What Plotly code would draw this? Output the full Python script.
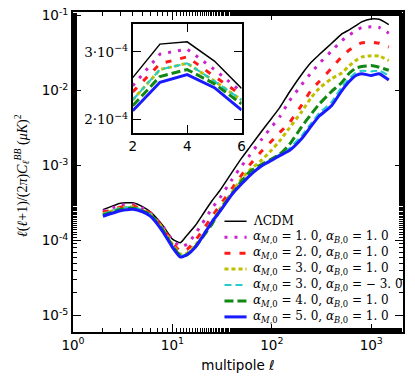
import plotly.graph_objects as go

# multipoles sampled off the figure
ell = [2, 3, 4, 5, 6, 8, 10, 12, 14, 17, 20, 25, 30, 40, 50, 60, 80, 100, 120,
       150, 200, 250, 300, 400, 500, 600, 700, 800, 1000, 1200, 1500]

# log10 of l(l+1)/(2pi) C_l^BB  [muK^2]
log_lcdm = [-3.590, -3.503, -3.497, -3.547, -3.618, -3.80, -3.98, -4.03, -3.93, -3.80, -3.66,
            -3.47, -3.333, -3.084, -2.895, -2.754, -2.532, -2.365, -2.227, -2.023, -1.782,
            -1.62, -1.52, -1.37, -1.25, -1.19, -1.135, -1.085, -1.045, -1.05, -1.12]
log_m1_b1 = [-3.611, -3.529, -3.516, -3.569, -3.627, -3.81, -3.99, -4.08, -4.05, -3.91, -3.77,
             -3.57, -3.43, -3.18, -3.00, -2.86, -2.64, -2.48, -2.35, -2.14, -1.92,
             -1.76, -1.64, -1.47, -1.34, -1.26, -1.20, -1.16, -1.15, -1.16, -1.235]
log_m2_b1 = [-3.627, -3.554, -3.536, -3.587, -3.635, -3.83, -4.03, -4.14, -4.12, -4.00, -3.87,
             -3.68, -3.53, -3.30, -3.12, -2.99, -2.80, -2.67, -2.56, -2.43, -2.19,
             -1.99, -1.88, -1.70, -1.555, -1.46, -1.40, -1.365, -1.355, -1.37, -1.42]
log_m3_b1 = [-3.648, -3.569, -3.553, -3.599, -3.648, -3.84, -4.05, -4.18, -4.17, -4.06, -3.94,
             -3.75, -3.58, -3.35, -3.17, -3.06, -2.92, -2.79, -2.67, -2.50, -2.28,
             -2.09, -1.97, -1.84, -1.77, -1.67, -1.60, -1.555, -1.535, -1.54, -1.60]
log_m3_bm3 = [-3.648, -3.569, -3.553, -3.599, -3.648, -3.85, -4.07, -4.20, -4.19, -4.08, -3.95,
              -3.77, -3.61, -3.38, -3.22, -3.11, -2.98, -2.92, -2.85, -2.77, -2.60,
              -2.43, -2.30, -2.15, -1.96, -1.84, -1.76, -1.735, -1.745, -1.735, -1.80]
log_m4_b1 = [-3.663, -3.587, -3.569, -3.606, -3.658, -3.86, -4.07, -4.20, -4.19, -4.08, -3.96,
             -3.78, -3.60, -3.37, -3.20, -3.08, -2.98, -2.91, -2.85, -2.72, -2.48,
             -2.31, -2.18, -2.01, -1.90, -1.77, -1.70, -1.68, -1.667, -1.69, -1.73]
log_m5_b1 = [-3.676, -3.602, -3.582, -3.616, -3.674, -3.88, -4.09, -4.22, -4.19, -4.09, -3.95,
             -3.75, -3.61, -3.38, -3.24, -3.133, -3.00, -2.93, -2.867, -2.80, -2.64,
             -2.47, -2.34, -2.20, -2.01, -1.88, -1.80, -1.775, -1.80, -1.775, -1.86]

labels = ["ΛCDM",
          "<i>α</i><sub><i>M</i>,0</sub> = 1. 0, <i>α</i><sub><i>B</i>,0</sub> = 1. 0",
          "<i>α</i><sub><i>M</i>,0</sub> = 2. 0, <i>α</i><sub><i>B</i>,0</sub> = 1. 0",
          "<i>α</i><sub><i>M</i>,0</sub> = 3. 0, <i>α</i><sub><i>B</i>,0</sub> = 1. 0",
          "<i>α</i><sub><i>M</i>,0</sub> = 3. 0, <i>α</i><sub><i>B</i>,0</sub> = − 3. 0",
          "<i>α</i><sub><i>M</i>,0</sub> = 4. 0, <i>α</i><sub><i>B</i>,0</sub> = 1. 0",
          "<i>α</i><sub><i>M</i>,0</sub> = 5. 0, <i>α</i><sub><i>B</i>,0</sub> = 1. 0"]
curves = [log_lcdm, log_m1_b1, log_m2_b1, log_m3_b1, log_m3_bm3, log_m4_b1, log_m5_b1]
colors = ["black", "#cc22cc", "#ff1a1a", "#bfbf00", "#22cccc", "#118811", "#1a1aff"]
widths = [1.5, 3, 3, 3, 2, 3, 3]
dashes = ["solid", "3px,7px", "6px,9px", "4px,3px", "7px,4px", "9px,4px", "solid"]

x_ticks = [1, 10, 100, 1000]
x_ticktext = ["10<sup>0</sup>", "10<sup>1</sup>", "10<sup>2</sup>", "10<sup>3</sup>"]
y_ticks = [1e-5, 1e-4, 1e-3, 1e-2, 1e-1]
y_ticktext = ["10<sup>-5</sup>", "10<sup>-4</sup>", "10<sup>-3</sup>", "10<sup>-2</sup>", "10<sup>-1</sup>"]

inset_ell = ell[:5]

fig = go.Figure()
for lab, c, col, w, d in zip(labels, curves, colors, widths, dashes):
    vals = [10 ** v for v in c]
    fig.add_trace(go.Scatter(x=ell, y=vals, mode="lines", name=lab, showlegend=False,
                             line=dict(color=col, width=w, dash=d, shape="spline", smoothing=0.5)))
for lab, c, col, w, d in zip(labels, curves, colors, widths, dashes):
    vals = [10 ** v for v in c[:5]]
    fig.add_trace(go.Scatter(x=inset_ell, y=vals, mode="lines", showlegend=False,
                             line=dict(color=col, width=w, dash=d),
                             xaxis="x2", yaxis="y2"))

# legend drawn by hand (plotly's rows are taller than the original's)
leg_x0, leg_x1, leg_text_x = 0.459, 0.526, 0.538
leg_top, leg_step = 0.346, 0.0498
for i, (lab, col, w, d) in enumerate(zip(labels, colors, widths, dashes)):
    yy = leg_top - i * leg_step
    fig.add_shape(type="line", xref="paper", yref="paper", x0=leg_x0, x1=leg_x1, y0=yy, y1=yy,
                  line=dict(color=col, width=w, dash=d))
    fig.add_annotation(x=leg_text_x, y=yy, xref="paper", yref="paper", text=lab,
                       showarrow=False, xanchor="left", yanchor="middle",
                       font=dict(family="DejaVu Serif", size=12, color="black"))

sans = "DejaVu Sans"
serif = "DejaVu Serif"
axis_common = dict(showline=True, linecolor="black", linewidth=1.8, mirror="allticks",
                   ticks="inside", ticklen=8, tickwidth=1, tickcolor="black",
                   showgrid=False, zeroline=False,
                   tickfont=dict(family=sans, size=13.5, color="black"))
minor_ticks = dict(ticks="inside", ticklen=4, tickcolor="black")

fig.add_annotation(x=-0.155, y=0.49, xref="paper", yref="paper", textangle=-90,
                   text="<i>ℓ</i>(<i>ℓ</i>+1)/(2<i>π</i>)<i>C</i><sub><i>ℓ</i></sub><sup><i>BB</i></sup>"
                        " (<i>μK</i>)<sup>2</sup>",
                   showarrow=False, xanchor="center", yanchor="middle",
                   font=dict(family="Liberation Serif", size=14, color="black"))

fig.update_layout(
    width=415, height=387,
    margin=dict(l=73, r=12, t=12, b=55, autoexpand=False),
    paper_bgcolor="white", plot_bgcolor="white",
    xaxis=dict(type="log", range=[0, 3.319], tickvals=x_ticks, ticktext=x_ticktext,
               minor=minor_ticks,
               title=dict(text="multipole <i>ℓ</i>", font=dict(family=sans, size=13.5, color="black"),
                          standoff=8),
               **axis_common),
    yaxis=dict(type="log", range=[-5.219, -0.953], tickvals=y_ticks, ticktext=y_ticktext,
               minor=minor_ticks, **axis_common),
    xaxis2=dict(domain=[0.181, 0.511], anchor="y2", range=[2, 6], tickvals=[2, 4, 6],
                **axis_common),
    yaxis2=dict(domain=[0.623, 0.963], anchor="x2", type="log", range=[-3.7327, -3.4504],
                tickvals=[2e-4, 3e-4],
                ticktext=["2·10<sup>−4</sup>", "3·10<sup>−4</sup>"],
                **{**axis_common, "tickfont": dict(family=serif, size=13.5, color="black")}),
    showlegend=False,
)

fig.write_html("out.html", config={"displayModeBar": False},
               post_script="document.body.style.margin='0';")
